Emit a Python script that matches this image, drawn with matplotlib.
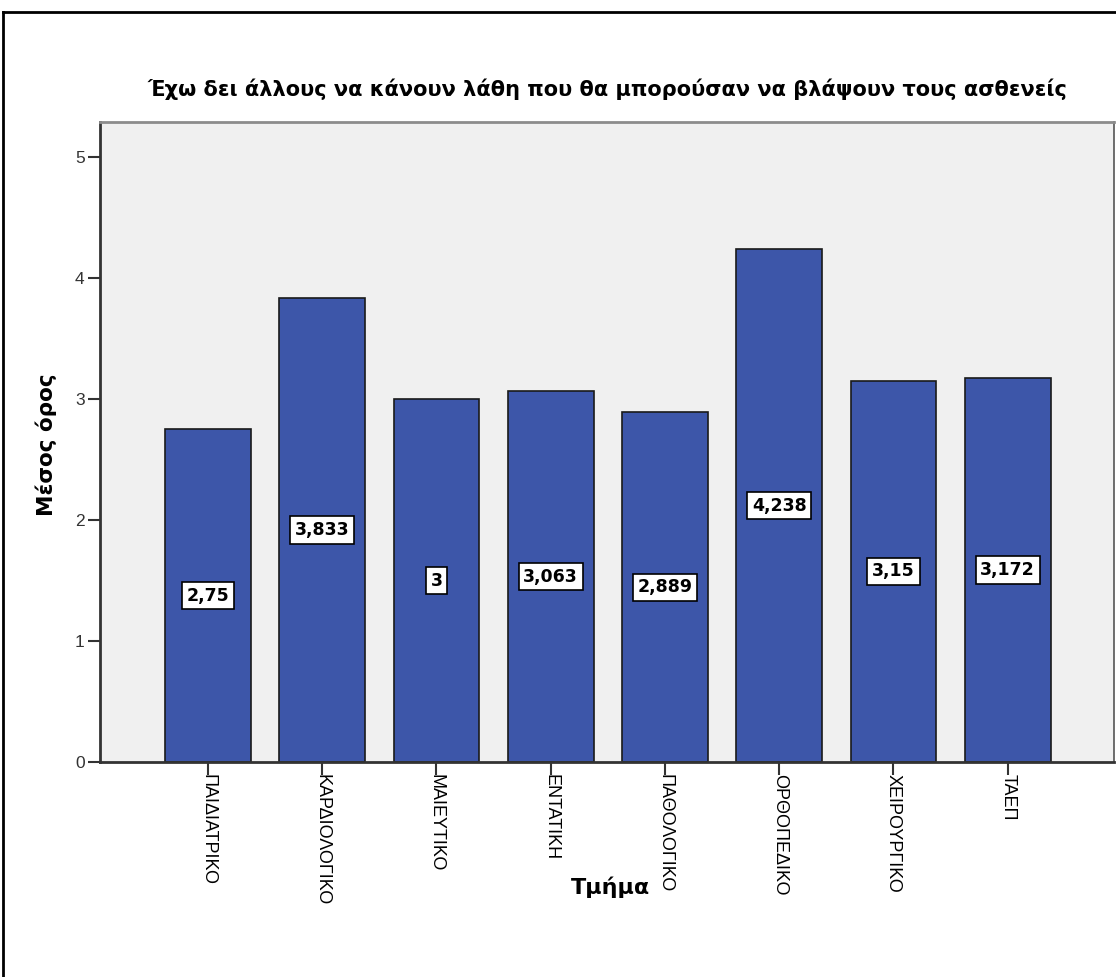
import matplotlib
matplotlib.use("Agg")
import matplotlib.pyplot as plt
from matplotlib.lines import Line2D

plt.rcParams['font.family'] = ['Liberation Sans', 'DejaVu Sans']

# Mean score per department
departments = ["ΠΑΙΔΙΑΤΡΙΚΟ", "ΚΑΡΔΙΟΛΟΓΙΚΟ", "ΜΑΙΕΥΤΙΚΟ", "ΕΝΤΑΤΙΚΗ",
               "ΠΑΘΟΛΟΓΙΚΟ", "ΟΡΘΟΠΕΔΙΚΟ", "ΧΕΙΡΟΥΡΓΙΚΟ", "ΤΑΕΠ"]
means = [2.75, 3.833, 3.0, 3.063, 2.889, 4.238, 3.15, 3.172]
value_labels = ["2,75", "3,833", "3", "3,063", "2,889", "4,238", "3,15", "3,172"]
y_ticks = [0, 1, 2, 3, 4, 5]

title = "Έχω δει άλλους να κάνουν λάθη που θα μπορούσαν να βλάψουν τους ασθενείς"
bold_family = ['DejaVu Sans']

W, H = 1116, 977
fig = plt.figure(figsize=(W / 100, H / 100), dpi=100)
fig.patch.set_facecolor("white")

# outer frame of the chart
fig.add_artist(Line2D([3 / W, 3 / W], [0, 1 - 12 / H], transform=fig.transFigure,
                      color="black", lw=2))
fig.add_artist(Line2D([3 / W, 1], [1 - 12 / H, 1 - 12 / H], transform=fig.transFigure,
                      color="black", lw=2))

left, right, top, bottom = 100, 1114, 122, 762
ax = fig.add_axes([left / W, 1 - bottom / H, (right - left) / W, (bottom - top) / H])
ax.set_facecolor("#F0F0F0")

x = list(range(len(departments)))
ax.bar(x, means, width=0.75, color="#3D56A9", edgecolor="#1A1A1A", linewidth=1.2, zorder=2)

for xi, m, lab in zip(x, means, value_labels):
    ax.text(xi, m / 2, lab, ha="center", va="center", fontsize=12.5, fontweight="bold",
            family=bold_family, color="black", zorder=3,
            bbox=dict(boxstyle="square,pad=0.27", facecolor="white", edgecolor="black", lw=1.2))

ax.set_xlim(-0.945, 7.93)
ax.set_ylim(0, 5.29)
ax.set_yticks(y_ticks)
ax.set_yticklabels([str(t) for t in y_ticks], fontsize=12.5, color="#333333")
ax.set_xticks(x)
ax.set_xticklabels(departments, rotation=-90, fontsize=13, ha="center", va="top")
ax.tick_params(axis="both", direction="out", length=9, width=1.5, color="#333333")
ax.tick_params(axis="y", pad=2)
ax.tick_params(axis="x", pad=0)

for side in ["left", "bottom"]:
    ax.spines[side].set_color("#333333")
    ax.spines[side].set_linewidth(2)
ax.spines["top"].set_color("#8C8C8C")
ax.spines["top"].set_linewidth(2)
ax.spines["right"].set_color("#555555")
ax.spines["right"].set_linewidth(1.2)

fig.text(607 / W, 1 - 89 / H, title, ha="center", va="center", fontsize=15,
         fontweight="bold", family=bold_family)
fig.text(46 / W, 1 - 445 / H, "Μέσος όρος", ha="center", va="center", rotation=90,
         fontsize=15.5, fontweight="bold", family=bold_family)
fig.text(610 / W, 1 - 887 / H, "Τμήμα", ha="center", va="center", fontsize=16,
         fontweight="bold", family=bold_family)

fig.savefig("out.png", dpi=100, facecolor="white")
